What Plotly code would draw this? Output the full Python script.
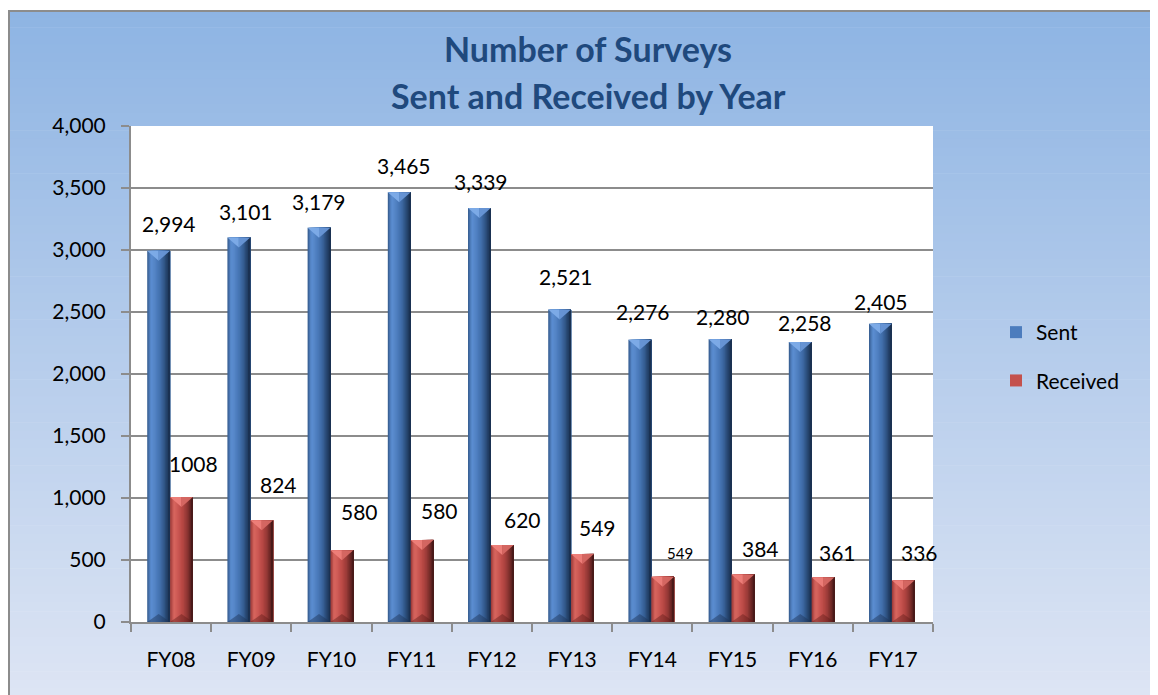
import plotly.graph_objects as go

# ---------------- data ----------------
years = ["FY08", "FY09", "FY10", "FY11", "FY12", "FY13", "FY14", "FY15", "FY16", "FY17"]
sent = [2994, 3101, 3179, 3465, 3339, 2521, 2276, 2280, 2258, 2405]
received = [1008, 820, 578, 662, 620, 549, 365, 384, 361, 336]
sent_labels = ["2,994", "3,101", "3,179", "3,465", "3,339", "2,521", "2,276", "2,280", "2,258", "2,405"]
received_labels = ["1008", "824", "580", "580", "620", "549", "549", "384", "361", "336"]

# ---------------- styles ----------------
FONT = "Lato"
OFF = 8                      # page margin of the browser body
W, H = 1158 - OFF, 695 - OFF
ML, MR, MT, MB = 131 - OFF, 225, 126 - OFF, 73
PW, PH = W - ML - MR, H - MT - MB
YMAX = 4000

def px2x(sx):                # screen x -> paper fraction
    return (sx - OFF - ML) / PW

def py2y(sy):                # screen y -> paper fraction
    return (H - MB - (sy - OFF)) / PH

def lerp_profile(stops, n):
    out = []
    for i in range(n):
        t = i / (n - 1) * (len(stops) - 1)
        k = min(int(t), len(stops) - 2)
        f = t - k
        a = [int(stops[k][j:j + 2], 16) for j in (1, 3, 5)]
        b = [int(stops[k + 1][j:j + 2], 16) for j in (1, 3, 5)]
        c = [round(a[m] + (b[m] - a[m]) * f) for m in range(3)]
        out.append("rgb(%d,%d,%d)" % tuple(c))
    return out

sent_stops = ["#3a6296", "#5b8ed2", "#5687c8", "#4b7bbb", "#416fab", "#355d92", "#26466f", "#1a3152"]
recv_stops = ["#a23e3b", "#d8665f", "#cf5c57", "#c3504c", "#b24541", "#983a37", "#752b29", "#4a1a19"]
NSTRIP = 18
sent_profile = lerp_profile(sent_stops, NSTRIP)
recv_profile = lerp_profile(recv_stops, NSTRIP)

bar_w = 0.285
sent_off = -0.298
recv_off = -0.013

# label offsets (pixels) relative to category centre / bar top
sent_dx = [-2, -5, -13, -8, -11, -6, -9, -10, -8, -12]
sent_dy = [27, 26, 26, 27, 26, 33, 28, 23, 20, 22]
recv_dx = [22, 27, 28, 28, 31, 25, 28, 28, 25, 27]
recv_dy = [34, 36, 39, 29, 26, 26, 24, 26, 25, 28]
recv_size = [21, 21, 21, 21, 21, 21, 15, 21, 21, 21]

fig = go.Figure()

def add_series(vals, name, profile, off, legend_idx):
    n = len(profile)
    sw = bar_w / n
    for i, col in enumerate(profile):
        fig.add_trace(go.Bar(
            x=years, y=vals, name=name,
            width=bar_w - i * sw, offset=off + i * sw,
            marker=dict(color=col, line=dict(width=0)),
            showlegend=(i == legend_idx), legendgroup=name,
            hoverinfo="skip" if i != legend_idx else None,
        ))

add_series(sent, "Sent", sent_profile, sent_off, 7)
add_series(received, "Received", recv_profile, recv_off, 7)

annotations = []
for i, y in enumerate(years):
    annotations.append(dict(x=y, y=sent[i], xref="x", yref="y", text=sent_labels[i],
                            showarrow=False, xshift=sent_dx[i], yshift=sent_dy[i],
                            yanchor="middle", font=dict(family=FONT, size=21, color="#000000")))
    annotations.append(dict(x=y, y=received[i], xref="x", yref="y", text=received_labels[i],
                            showarrow=False, xshift=recv_dx[i], yshift=recv_dy[i],
                            yanchor="middle", font=dict(family=FONT, size=recv_size[i], color="#000000")))

# title
title_font = dict(family=FONT, size=34, color="#1f497d")
annotations.append(dict(x=px2x(588), y=py2y(48), xref="paper", yref="paper", text="<b>Number of Surveys</b>",
                        showarrow=False, xanchor="center", yanchor="middle", font=title_font))
annotations.append(dict(x=px2x(588), y=py2y(95), xref="paper", yref="paper", text="<b>Sent and Received by Year</b>",
                        showarrow=False, xanchor="center", yanchor="middle", font=title_font))

# background gradient
shapes = []
top_c = (142, 180, 227)
bot_c = (221, 229, 244)
y_top, y_bot = 10, 697
N = 80
for k in range(N):
    a = y_top + (y_bot - y_top) * k / N
    b = y_top + (y_bot - y_top) * (k + 1) / N
    t = (k + 0.5) / N
    c = tuple(int(round(top_c[j] + (bot_c[j] - top_c[j]) * t)) for j in range(3))
    shapes.append(dict(type="rect", xref="paper", yref="paper",
                       x0=px2x(8), x1=px2x(1162), y0=py2y(b + 0.6), y1=py2y(a),
                       fillcolor="rgb(%d,%d,%d)" % c, line=dict(width=0), layer="below"))
# white plot area
shapes.append(dict(type="rect", xref="paper", yref="paper", x0=0, x1=1, y0=0, y1=1,
                   fillcolor="white", line=dict(width=0), layer="below"))
# outer border
shapes.append(dict(type="rect", xref="paper", yref="paper",
                   x0=px2x(9), x1=px2x(1170), y0=py2y(705), y1=py2y(11),
                   fillcolor="rgba(0,0,0,0)", line=dict(width=2, color="#8c8c8c"), layer="below"))

# bevel facets on top and bottom of every bar (in data coordinates)
top_d = 10 * YMAX / PH
bot_d = 8 * YMAX / PH
def bevels(vals, off, top_col, top_col2, bot_col):
    for i, v in enumerate(vals):
        x0, x1 = i + off, i + off + bar_w
        xc = (x0 + x1) / 2
        shapes.append(dict(type="path", xref="x", yref="y", layer="above", line=dict(width=0),
                           fillcolor=top_col,
                           path="M %f,%f L %f,%f L %f,%f Z" % (x0, v, xc, v, xc, v - top_d)))
        shapes.append(dict(type="path", xref="x", yref="y", layer="above", line=dict(width=0),
                           fillcolor=top_col2,
                           path="M %f,%f L %f,%f L %f,%f Z" % (xc, v, x1, v, xc, v - top_d)))
        shapes.append(dict(type="path", xref="x", yref="y", layer="above", line=dict(width=0),
                           fillcolor=bot_col,
                           path="M %f,%f L %f,%f L %f,%f Z" % (x0, 0, x1, 0, xc, bot_d)))

bevels(sent, sent_off, "rgba(126,172,232,0.95)", "rgba(104,150,214,0.95)", "rgba(28,50,86,0.45)")
bevels(received, recv_off, "rgba(238,128,122,0.95)", "rgba(214,104,99,0.95)", "rgba(90,24,22,0.40)")

axis_col = "#8c8c8c"
fig.update_layout(
    width=W, height=H,
    margin=dict(l=ML, r=MR, t=MT, b=MB, pad=0),
    paper_bgcolor="white", plot_bgcolor="rgba(0,0,0,0)",
    barmode="overlay",
    font=dict(family=FONT, size=21, color="#000000"),
    shapes=shapes, annotations=annotations,
    showlegend=True,
    legend=dict(x=px2x(996), y=py2y(312), xanchor="left", yanchor="top",
                bgcolor="rgba(0,0,0,0)", font=dict(family=FONT, size=21, color="#000000"),
                tracegroupgap=18, itemwidth=30),
    xaxis=dict(type="category", range=[-0.5, 9.5], tickson="boundaries", ticks="outside",
               ticklen=8, tickwidth=2, tickcolor=axis_col, showline=True, linecolor=axis_col,
               linewidth=2, showgrid=False, ticklabelstandoff=18,
               tickfont=dict(family=FONT, size=21, color="#000000")),
    yaxis=dict(range=[0, YMAX], tickvals=list(range(0, YMAX + 1, 500)), tickformat=",",
               ticks="outside", ticklen=8, tickwidth=2, tickcolor=axis_col,
               showline=True, linecolor=axis_col, linewidth=2,
               showgrid=True, gridcolor=axis_col, gridwidth=2, zeroline=False,
               ticklabelstandoff=11,
               tickfont=dict(family=FONT, size=21, color="#000000")),
)

fig.write_html("out.html")
